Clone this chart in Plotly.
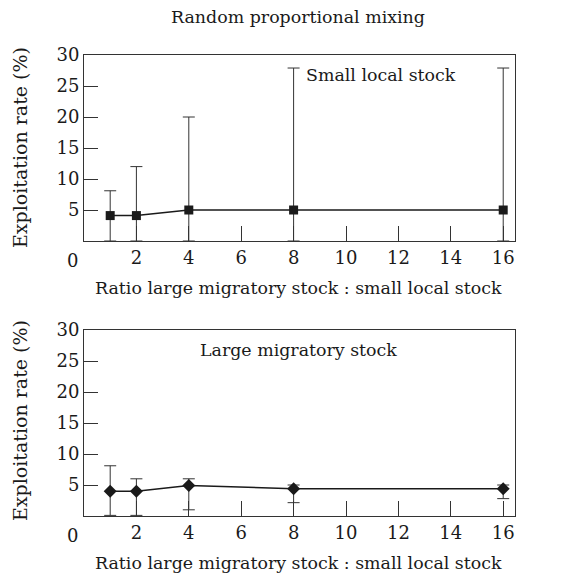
import plotly.graph_objects as go

ratio = [1, 2, 4, 8, 16]
small_mean = [4.1, 4.1, 5.0, 5.0, 5.0]
small_upper = [8.1, 12.0, 20.0, 27.9, 27.9]
small_lower = [0.0, 0.0, 0.0, 0.0, 0.0]
large_mean = [4.0, 4.0, 4.9, 4.4, 4.4]
large_upper = [8.1, 6.0, 6.0, 5.0, 5.0]
large_lower = [0.1, 0.1, 1.0, 2.15, 2.8]
x_ticks = [2, 4, 6, 8, 10, 12, 14, 16]
y_ticks = [5, 10, 15, 20, 25, 30]

FONT = "DejaVu Serif"
W, H = 584, 576
TXT = 17.4

fig = go.Figure()

def add_series(mean, upper, lower, symbol, size, xa, ya):
    fig.add_trace(go.Scatter(
        x=ratio, y=mean, mode="lines+markers",
        line=dict(color="#1a1a1a", width=1.5),
        marker=dict(symbol=symbol, size=size, color="#1a1a1a"),
        error_y=dict(type="data", symmetric=False,
                     array=[u - m for u, m in zip(upper, mean)],
                     arrayminus=[m - l for m, l in zip(mean, lower)],
                     color="#333333", thickness=1, width=6),
        xaxis=xa, yaxis=ya, showlegend=False, cliponaxis=False))

add_series(small_mean, small_upper, small_lower, "square", 9, "x", "y")
add_series(large_mean, large_upper, large_lower, "diamond", 10, "x2", "y2")

xdom = [84 / W, 515 / W]
top_dom = [1 - 241 / H, 1 - 55 / H]
bot_dom = [1 - 516 / H, 1 - 330 / H]

axis_common = dict(showline=True, linecolor="#333333", linewidth=1, mirror=True,
                   showgrid=False, zeroline=False, ticks="inside", automargin=False,
                   tickcolor="#333333", tickfont=dict(family=FONT, size=18, color="#1a1a1a"))

xa = dict(axis_common, range=[0, 16.45], tickvals=x_ticks, ticklen=15, domain=xdom)
ya = dict(axis_common, range=[0, 30], tickvals=y_ticks, ticklen=14)

fig.update_layout(
    width=W, height=H, margin=dict(l=0, r=0, t=0, b=0, autoexpand=False),
    paper_bgcolor="white", plot_bgcolor="white",
    xaxis=dict(xa, anchor="y"),
    yaxis=dict(ya, domain=top_dom, anchor="x"),
    xaxis2=dict(xa, anchor="y2"),
    yaxis2=dict(ya, domain=bot_dom, anchor="x2"),
)

def ann(text, xpx, ypx, size=TXT, angle=0):
    fig.add_annotation(text=text, x=xpx / W, y=1 - ypx / H, xref="paper", yref="paper",
                       showarrow=False, textangle=angle, xanchor="center", yanchor="middle",
                       font=dict(family=FONT, size=size, color="#1a1a1a"))

ann("Random proportional mixing", 298, 17)
ann("Small local stock", 381, 75)
ann("Large migratory stock", 298, 350)
ann("Ratio large migratory stock : small local stock", 298, 288)
ann("Ratio large migratory stock : small local stock", 298, 563)
ann("Exploitation rate (%)", 20, 148, 19, -90)
ann("Exploitation rate (%)", 20, 421, 19, -90)
ann("0", 72, 260, 18)
ann("0", 72, 535, 18)

fig.write_html("out.html")
